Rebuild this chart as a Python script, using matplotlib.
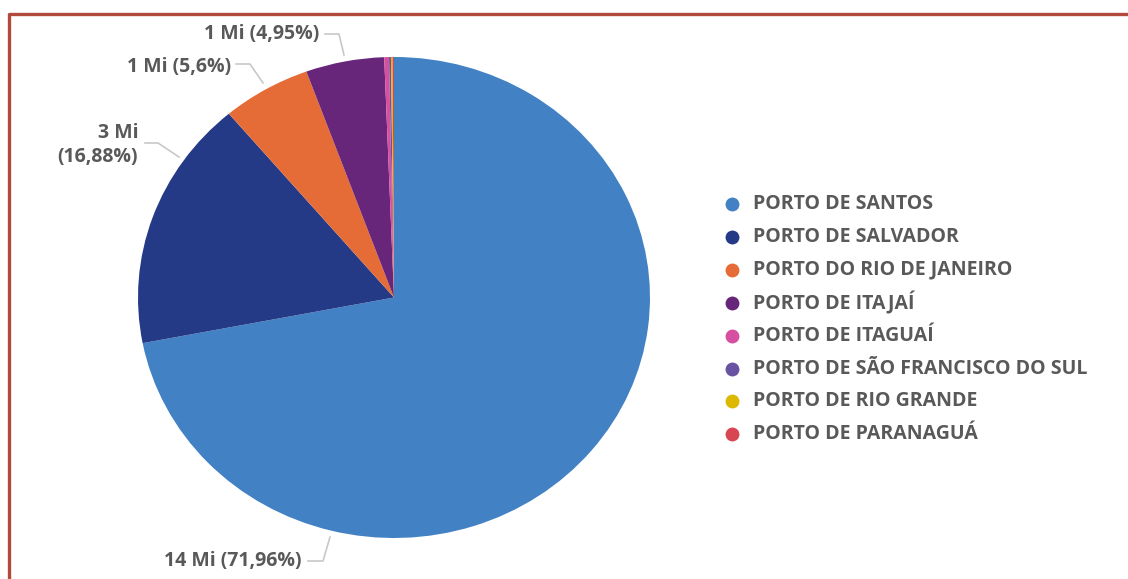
import matplotlib
matplotlib.use("Agg")
import matplotlib.pyplot as plt

# data (share of total, %)
portos = ['PORTO DE SANTOS', 'PORTO DE SALVADOR', 'PORTO DO RIO DE JANEIRO',
          'PORTO DE ITAJAÍ', 'PORTO DE ITAGUAÍ', 'PORTO DE SÃO FRANCISCO DO SUL',
          'PORTO DE RIO GRANDE', 'PORTO DE PARANAGUÁ']
percent = [71.96, 16.88, 5.6, 4.95, 0.30, 0.12, 0.10, 0.09]
mi_labels = ['14 Mi', '3 Mi', '1 Mi', '1 Mi']
colors = ['#4281C4', '#253A87', '#E66C37', '#68267A',
          '#D64FA0', '#6A52A3', '#DDB800', '#D84653']

W, H = 1128, 579
txt_color = '#595959'
line_color = '#C8C8C8'
font = ['Open Sans', 'DejaVu Sans']
fs = 14

fig = plt.figure(figsize=(W / 100, H / 100), dpi=100)

# pie axes (slightly stretched like the original)
cx, cy, rx, ry = 394, 297.5, 256, 240.5
ax = fig.add_axes([(cx - rx) / W, (H - cy - ry) / H, 2 * rx / W, 2 * ry / H])
ax.pie(percent, colors=colors, startangle=90, counterclock=False,
       wedgeprops=dict(linewidth=0))
ax.set_aspect('auto')
ax.set_xlim(-1, 1)
ax.set_ylim(-1, 1)
ax.axis('off')

# overlay in pixel coordinates for border, labels and legend
ov = fig.add_axes([0, 0, 1, 1], facecolor='none')
ov.set_xlim(0, W)
ov.set_ylim(H, 0)
ov.axis('off')

# border
ov.plot([9, 9, W], [H, 14, 14], color='#B04A3C', lw=2.4, solid_capstyle='butt')

# data labels with leader lines
def pct(v):
    return ('%g' % v).replace('.', ',')

labels = ['%s (%s%%)' % (mi_labels[i], pct(percent[i])) for i in range(4)]
labels[1] = '%s\n(%s%%)' % (mi_labels[1], pct(percent[1]))
label_pos = [(302, 561), (138, 145), (231, 67), (319, 34)]
leaders = [[(308, 561), (323, 561), (330, 537)],
           [(145, 143), (158, 143), (179, 157)],
           [(236, 64), (250, 64), (263, 83)],
           [(325, 34), (339, 34), (344, 55)]]
for lab, (x, y), pts in zip(labels, label_pos, leaders):
    ov.text(x, y, lab, ha='right', va='center', fontsize=fs, fontweight='bold',
            color=txt_color, family=font, linespacing=1.25)
    ov.plot([p[0] for p in pts], [p[1] for p in pts], color=line_color, lw=1.2)

# legend
y0, dy = 204, 32.9
for i, (name, c) in enumerate(zip(portos, colors)):
    y = y0 + i * dy
    ov.plot(732, y, 'o', color=c, markersize=10, markeredgewidth=0)
    ov.text(753, y, name, ha='left', va='center', fontsize=fs, fontweight='bold',
            color=txt_color, family=font)

fig.savefig('out.png', dpi=100)
